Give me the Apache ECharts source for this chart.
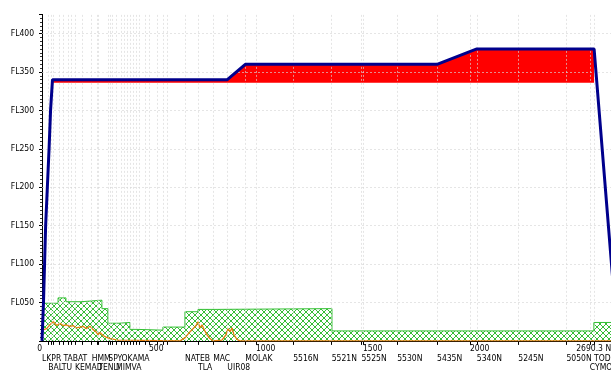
<!DOCTYPE html>
<html>
<head>
<meta charset="utf-8">
<script src="https://cdn.jsdelivr.net/npm/echarts@6/dist/echarts.min.js"></script>
<style>
  html, body { margin: 0; padding: 0; background: #ffffff; overflow: hidden; }
  #chart { width: 625px; height: 372px; }
</style>
</head>
<body>
<div id="chart"></div>
<script>
// Route length (NM) and vertical range (flight levels)
const routeLength = 2690.3;
const maxFL = 425;

// Planned vertical profile: distance along route (NM) and flight level
const profileDist = [0, 7, 12, 17, 25, 33, 40, 49, 866, 950, 1846, 2032, 2580, 2690.3];
const profileFL   = [0, 50, 100, 150, 200, 250, 300, 340, 340, 360, 360, 380, 380, 0];

// Lower edge of the red cruise band
const bandBaseFL = 336;

// Minimum safe altitude steps (start of each step, NM) and level
const moraDist = [0, 75, 112, 182, 280, 308, 360, 411, 444, 565, 668, 729, 818, 1355, 2579, 2690.3];
const moraFL   = [49, 56, 51, 53, 42, 23, 24, 15, 14, 18, 38, 41, 42, 13, 24, 24];

// Orange trace near the ground
const traceDist = [0, 6, 22, 37, 53, 69, 84, 98, 112, 131, 145, 159, 178, 192, 206, 224, 238, 252, 262, 271, 285, 299, 318, 355,
                   645, 668, 692, 706, 720, 729, 738, 748, 757, 771, 785, 799,
                   841, 860, 869, 879, 888, 897, 911, 925, 2690.3];
const traceFL   = [14, 14, 16, 21, 25, 20, 23, 20, 21, 19, 20, 17, 18, 19, 16, 19, 15, 12, 8, 11, 7, 5, 3, 1,
                   0, 4, 12, 16, 20, 25, 17, 21, 15, 8, 3, 0,
                   1, 8, 16, 12, 17, 8, 2, 0, 0];

// Waypoint labels, first and second row
const row1Names = ['LKPR', 'TABAT', 'HMM', 'SPY', 'OKAMA', 'NATEB', 'MAC', 'MOLAK', '5516N', '5521N',
                   '5525N', '5530N', '5435N', '5340N', '5245N', '5050N', 'TOD'];
const row1Dist  = [0, 100, 232, 310, 372, 668, 800, 950, 1174, 1354,
                   1493, 1660, 1846, 2032, 2226, 2451, 2580];
const row2Names = ['BALTU', 'KEMAD', 'TENLI', 'MIMVA', 'TLA', 'UIR08', 'CYMON'];
const row2Dist  = [29, 154, 263, 346, 729, 866, 2560];

// Unnamed fixes along the route (ticks only)
const fixDist = [42, 51, 79, 121, 136, 187, 257, 318, 327, 383, 397, 411, 425, 439, 453, 481, 537, 565, 584];

// Distance scale labels and flight level grid
const distLabels = [0, 500, 1000, 1500, 2000, routeLength];
const flGrid = [50, 100, 150, 200, 250, 300, 350, 400];

const FONT = "'Liberation Sans Narrow', 'DejaVu Sans Condensed', 'Liberation Sans', sans-serif";

function zip(xs, ys) { return xs.map((x, i) => [x, ys[i]]); }

// Cross-hatch tile for the minimum altitude area
function hatchTile() {
  const c = document.createElement('canvas');
  c.width = 6; c.height = 6;
  const g = c.getContext('2d');
  g.strokeStyle = '#36bd36';
  g.lineWidth = 1;
  g.beginPath();
  g.moveTo(0, 0); g.lineTo(6, 6);
  g.moveTo(6, 0); g.lineTo(0, 6);
  g.stroke();
  return c;
}

const bandIdx = profileDist.map((d, i) => i).filter(i => profileFL[i] >= 340 && profileDist[i] <= 2580);
const bandData = bandIdx.map(i => [profileDist[i], profileFL[i]]);

const tickDist = Array.from(new Set([].concat(row1Dist, row2Dist, fixDist, [500, 1000, 1500, 2000])))
  .filter(d => d > 0).sort((a, b) => a - b);

const row1Map = new Map(row1Dist.map((d, i) => [d, row1Names[i]]));
const row2Map = new Map(row2Dist.map((d, i) => [d, row2Names[i]]));

const labelStyle = { fontFamily: FONT, fontSize: 8.5, color: '#000' };

function waypointAxis(map, values, margin) {
  return {
    type: 'value', position: 'bottom', gridIndex: 0,
    min: 0, max: routeLength,
    axisLine: { show: false }, axisTick: { show: false }, splitLine: { show: false },
    axisLabel: Object.assign({}, labelStyle, {
      customValues: values,
      formatter: v => map.get(v) || '',
      align: 'left', verticalAlign: 'middle', margin: margin
    })
  };
}

const chart = echarts.init(document.getElementById('chart'), null, { renderer: 'canvas' });
chart.setOption({
  animation: false,
  backgroundColor: '#ffffff',
  grid: { left: 42, top: 14.4, bottom: 29.5, right: 7.3, containLabel: false },
  xAxis: [
    {
      type: 'value', position: 'bottom', min: 0, max: routeLength,
      axisLine: { show: true, onZero: false, lineStyle: { color: '#000', width: 1 } },
      axisTick: { show: true, customValues: tickDist, length: 4, lineStyle: { color: '#000' } },
      splitLine: { show: false },
      axisLabel: Object.assign({}, labelStyle, {
        customValues: distLabels,
        formatter: v => (v === routeLength ? v + ' NM' : String(v)),
        align: 'left', alignMinLabel: 'right', alignMaxLabel: 'right',
        verticalAlign: 'middle', margin: 7.5
      })
    },
    waypointAxis(row1Map, row1Dist, 18.2),
    waypointAxis(row2Map, row2Dist, 26.6)
  ],
  yAxis: {
    type: 'value', min: 0, max: maxFL, interval: 50,
    axisLine: { show: true, lineStyle: { color: '#000', width: 1 } },
    axisTick: { show: true, length: 3, lineStyle: { color: '#000' } },
    minorTick: { show: true, splitNumber: 10, length: 2, lineStyle: { color: '#333' } },
    splitLine: { show: false },
    axisLabel: Object.assign({}, labelStyle, {
      margin: 8, showMaxLabel: false,
      formatter: v => (v > 0 && v % 50 === 0 ? 'FL' + String(v).padStart(3, '0') : '')
    })
  },
  series: [
    {
      name: 'MORA', type: 'line', step: 'end', z: 2,
      data: zip(moraDist, moraFL), symbol: 'none',
      lineStyle: { color: '#33c033', width: 1 },
      areaStyle: { color: { image: hatchTile(), repeat: 'repeat' }, opacity: 1 }
    },
    {
      name: 'Cruise band', type: 'line', z: 2,
      data: bandData, symbol: 'none',
      lineStyle: { width: 0 },
      areaStyle: { color: '#ff0000', opacity: 1, origin: bandBaseFL }
    },
    {
      name: 'Grid', type: 'line', z: 3, data: [], symbol: 'none', silent: true,
      markLine: {
        silent: true, symbol: 'none', animation: false,
        label: { show: false },
        lineStyle: { color: 'rgba(215,215,215,0.65)', width: 1, type: [2, 2] },
        data: tickDist.map(d => ({ xAxis: d })).concat(flGrid.map(v => ({ yAxis: v })))
      }
    },
    {
      name: 'Trace', type: 'line', z: 4,
      data: zip(traceDist, traceFL), symbol: 'none',
      lineStyle: { color: '#e5800f', width: 1.3 }
    },
    {
      name: 'Profile', type: 'line', z: 5,
      data: zip(profileDist, profileFL), symbol: 'none',
      lineStyle: { color: '#00008c', width: 3 }
    }
  ]
});
</script>
</body>
</html>
